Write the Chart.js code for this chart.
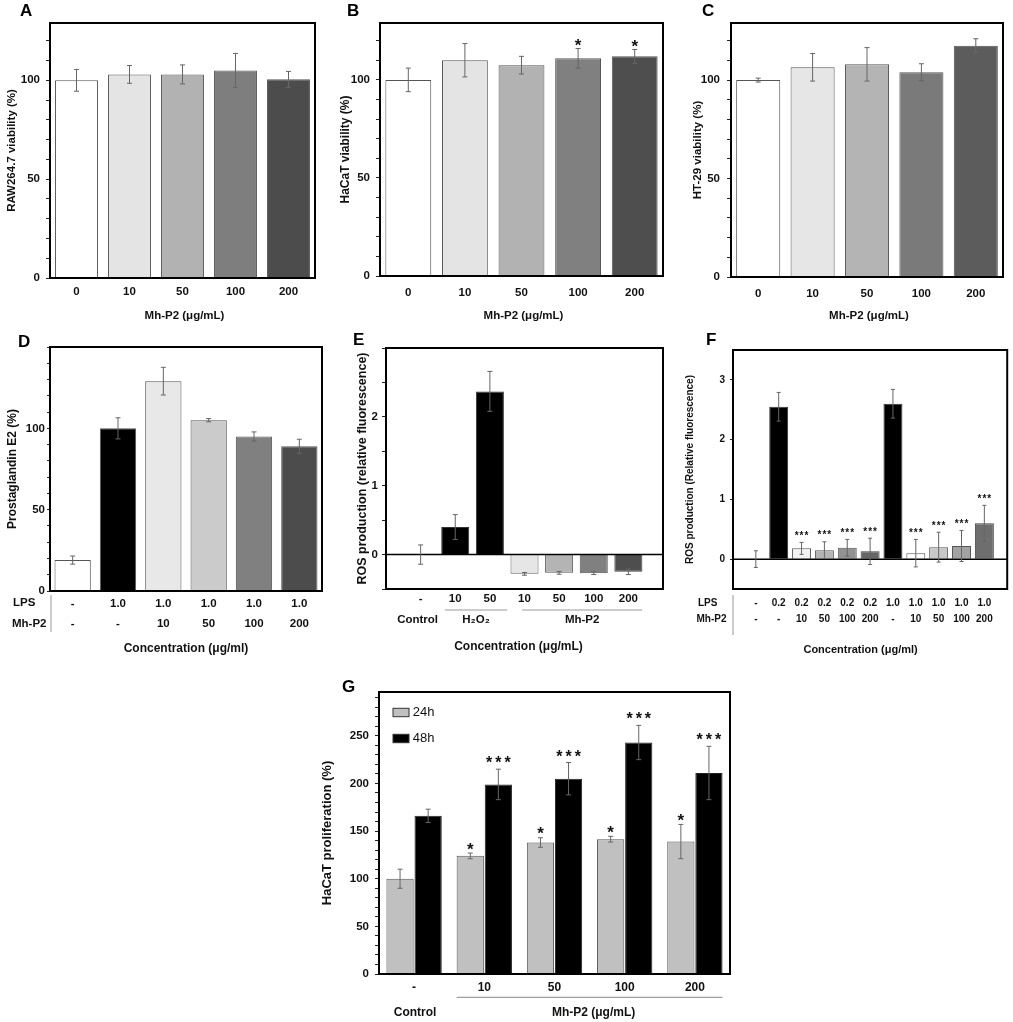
<!DOCTYPE html>
<html lang="en">
<head>
<meta charset="UTF-8" />
<title>Mh-P2 viability, PGE2, ROS and proliferation</title>
<script src="https://cdn.jsdelivr.net/npm/chart.js"></script>
<style>
  body { margin: 0; background: #fff; width: 1013px; height: 1022px; position: relative; overflow: hidden; }
  canvas { position: absolute; }
</style>
</head>
<body>
<script>
// ---- A, B, C: cell viability
const doseLabels = ['0', '10', '50', '100', '200'];
const rawViability = [100, 103, 103, 105, 100.5];
const rawViabilityErr = [5.5, 4.5, 4.8, 8.6, 4];
const hacatViability = [100, 110, 107.5, 111, 112];
const hacatViabilityErr = [6, 8.5, 4.5, 5, 3.5];
const hacatStars = ['', '', '', '*', '*'];
const ht29Viability = [100, 106.5, 108, 104, 117.5];
const ht29ViabilityErr = [1, 7, 8.5, 4.3, 3.5];

// ---- D: prostaglandin E2
const pgeLps = ['-', '1.0', '1.0', '1.0', '1.0', '1.0'];
const pgeMh = ['-', '-', '10', '50', '100', '200'];
const pgeValues = [19, 100, 129, 105, 95, 89];
const pgeErr = [2.5, 6.5, 8.5, 1, 2.8, 4.3];

// ---- E: ROS with H2O2 / Mh-P2
const rosDose = ['-', '10', '50', '10', '50', '100', '200'];
const rosValues = [0, 0.4, 2.37, -0.28, -0.265, -0.27, -0.25];
const rosErr = [0.14, 0.18, 0.29, 0.02, 0.02, 0.02, 0.04];

// ---- F: ROS with LPS + Mh-P2
const fLps = ['-', '0.2', '0.2', '0.2', '0.2', '0.2', '1.0', '1.0', '1.0', '1.0', '1.0'];
const fMh = ['-', '-', '10', '50', '100', '200', '-', '10', '50', '100', '200'];
const fValues = [0, 2.55, 0.18, 0.15, 0.19, 0.13, 2.6, 0.1, 0.2, 0.22, 0.6];
const fErr = [0.14, 0.24, 0.1, 0.14, 0.14, 0.22, 0.24, 0.23, 0.25, 0.26, 0.3];
const fStars = ['', '', '***', '***', '***', '***', '', '***', '***', '***', '***'];

// ---- G: HaCaT proliferation
const gLabels = ['-', '10', '50', '100', '200'];
const prolif24 = [100, 124, 138, 141.5, 139];
const prolif24Err = [10, 3, 5, 3, 18];
const prolif24Stars = ['', '*', '*', '*', '*'];
const prolif48 = [166, 199, 205, 243, 211];
const prolif48Err = [7, 16, 17, 18, 28];
const prolif48Stars = ['', '***', '***', '***', '***'];

const FONT = '"Liberation Sans", Arial, sans-serif';
Chart.defaults.font.family = FONT;
Chart.defaults.font.weight = 'bold';
Chart.defaults.color = '#111';

const NONE = 'rgba(0,0,0,0)';

function txt(ctx, s, x, y, size, align, weight) {
  ctx.font = (weight || 'bold') + ' ' + size + 'px ' + FONT;
  ctx.textAlign = align || 'center';
  ctx.textBaseline = 'middle';
  ctx.fillStyle = '#111';
  ctx.fillText(s, x, y);
}

function hline(ctx, x1, x2, y, color) {
  ctx.strokeStyle = color; ctx.lineWidth = 1;
  ctx.beginPath(); ctx.moveTo(x1, y); ctx.lineTo(x2, y); ctx.stroke();
}

// error bars, stars, zero line, frame, panel letter
function extrasPlugin(p) {
  return {
    id: 'extras',
    afterDatasetsDraw(chart) {
      const { ctx, chartArea: a } = chart;
      const y = chart.scales.y;
      ctx.save();
      if (p.zero) {
        const y0 = y.getPixelForValue(0);
        ctx.strokeStyle = '#000'; ctx.lineWidth = 1.5;
        ctx.beginPath(); ctx.moveTo(a.left, y0); ctx.lineTo(a.right, y0); ctx.stroke();
      }
      chart.data.datasets.forEach((ds, di) => {
        chart.getDatasetMeta(di).data.forEach((bar, i) => {
          const raw = ds.data[i];
          const v = typeof raw === 'object' ? raw.y : raw;
          const top = y.getPixelForValue(v + ds.err[i]);
          const bot = y.getPixelForValue(v - ds.err[i]);
          const cap = p.cap || 2.5;
          ctx.strokeStyle = '#666'; ctx.lineWidth = 1;
          ctx.beginPath();
          ctx.moveTo(bar.x, top); ctx.lineTo(bar.x, bot);
          ctx.moveTo(bar.x - cap, top); ctx.lineTo(bar.x + cap, top);
          ctx.moveTo(bar.x - cap, bot); ctx.lineTo(bar.x + cap, bot);
          ctx.stroke();
          if (ds.stars && ds.stars[i]) {
            const sz = ds.starSize, sp = ds.starSpacing || 0;
            ctx.font = 'bold ' + sz + 'px ' + FONT;
            ctx.letterSpacing = sp + 'px';
            ctx.textAlign = 'center'; ctx.textBaseline = 'alphabetic';
            ctx.fillStyle = '#111';
            ctx.fillText(ds.stars[i], bar.x + sp / 2, top - ds.starLift + 0.57 * sz);
            ctx.letterSpacing = '0px';
          }
        });
      });
      ctx.strokeStyle = '#000'; ctx.lineWidth = 2;
      ctx.strokeRect(a.left, a.top, a.width, a.height);
      ctx.font = 'bold 17px ' + FONT;
      ctx.textAlign = 'left'; ctx.textBaseline = 'alphabetic'; ctx.fillStyle = '#000';
      ctx.fillText(p.letter, p.lx - p.x, p.ly - p.y);
      ctx.restore();
    }
  };
}

function makePanel(p) {
  const cv = document.createElement('canvas');
  cv.width = p.w; cv.height = p.h;
  cv.style.left = p.x + 'px'; cv.style.top = p.y + 'px';
  document.body.appendChild(cv);
  const b = p.box;
  const every = p.yEvery;
  const labelMax = p.yLabelMax !== undefined ? p.yLabelMax : Infinity;
  const xScale = Object.assign({
    offset: true,
    grid: { display: false, drawTicks: false, offset: true },
    border: { display: false },
    afterFit: s => { s.height = p.y + p.h - b.b; }
  }, p.xScale || {});
  xScale.ticks = { autoSkip: false, maxRotation: 0, padding: p.xPad, font: { size: p.xFont, lineHeight: p.xLine || 1.2 } };
  if (p.xStep) xScale.ticks.stepSize = p.xStep;
  if (p.xTick) xScale.ticks.callback = p.xTick;
  return new Chart(cv, {
    type: 'bar',
    data: { labels: p.labels, datasets: p.datasets },
    options: {
      responsive: false,
      animation: false,
      events: [],
      layout: { padding: { left: 0, bottom: 0, top: b.t - p.y, right: p.x + p.w - b.r } },
      plugins: { legend: { display: false }, tooltip: { enabled: false } },
      scales: {
        x: xScale,
        y: {
          min: p.yMin, max: p.yMax,
          ticks: {
            stepSize: p.yStep, autoSkip: false, includeBounds: false, padding: p.yPad,
            font: { size: p.yFont },
            callback: v => {
              const q = v / every;
              return Math.abs(q - Math.round(q)) < 1e-9 && v <= labelMax ? String(v) : '';
            }
          },
          afterBuildTicks: s => { if (p.yKeep) s.ticks = s.ticks.filter(t => p.yKeep(t.value)); },
          grid: { drawOnChartArea: false, drawTicks: true, tickLength: p.tickLen, color: '#222' },
          border: { display: false },
          title: { display: true, text: p.yTitle, color: '#111', font: { size: p.yTitleFont }, padding: { top: p.yTitlePad, bottom: 0 } },
          afterFit: s => { s.width = b.l - p.x; }
        }
      }
    },
    plugins: [extrasPlugin(p), { id: 'notes', afterDraw: chart => { chart.ctx.save(); p.draw(chart, chart.ctx, chart.chartArea); chart.ctx.restore(); } }]
  });
}

function viabilityPanel(o) {
  return makePanel({
    x: o.x, y: 0, w: o.w, h: 325, box: o.box,
    labels: doseLabels,
    datasets: [{
      data: o.values, err: o.err, stars: o.stars, starSize: 17, starLift: 7,
      backgroundColor: o.colors, borderColor: '#555', borderWidth: 1,
      categoryPercentage: 0.81, barPercentage: 1
    }],
    xPad: o.xPad, xFont: 11.5,
    yMin: 0, yMax: 129, yStep: 10, yEvery: 50, yPad: o.yPad, tickLen: 4, yFont: 11.5,
    yTitle: o.title, yTitleFont: o.titleFont, yTitlePad: o.titlePad,
    letter: o.letter, lx: o.lx, ly: 16,
    draw: (chart, ctx, a) => txt(ctx, 'Mh-P2 (μg/mL)', (a.left + a.right) / 2 + 2, 316, 11.5)
  });
}

// A
viabilityPanel({ x: 0, w: 330, box: { l: 50, t: 23, r: 315, b: 278 }, values: rawViability, err: rawViabilityErr,
  colors: ['#ffffff', '#e4e4e4', '#b2b2b2', '#7e7e7e', '#4c4c4c'], xPad: 6.5, yPad: 6,
  title: 'RAW264.7 viability (%)', titleFont: 11.5, titlePad: 5, letter: 'A', lx: 20 });
// B
viabilityPanel({ x: 330, w: 335, box: { l: 380, t: 23, r: 663, b: 276 }, values: hacatViability, err: hacatViabilityErr,
  stars: hacatStars, colors: ['#ffffff', '#e4e4e4', '#b2b2b2', '#808080', '#4e4e4e'], xPad: 10, yPad: 6,
  title: 'HaCaT viability (%)', titleFont: 12, titlePad: 8, letter: 'B', lx: 347 });
// C
viabilityPanel({ x: 670, w: 343, box: { l: 731, t: 23, r: 1003, b: 277 }, values: ht29Viability, err: ht29ViabilityErr,
  colors: ['#ffffff', '#e6e6e6', '#b4b4b4', '#7a7a7a', '#5c5c5c'], xPad: 9.5, yPad: 7,
  title: 'HT-29 viability (%)', titleFont: 11.5, titlePad: 21, letter: 'C', lx: 702 });

// D
makePanel({
  x: 0, y: 325, w: 330, h: 335, box: { l: 50, t: 347, r: 322, b: 591 },
  labels: pgeMh,
  datasets: [{
    data: pgeValues, err: pgeErr,
    backgroundColor: ['#ffffff', '#000000', '#e8e8e8', '#cbcbcb', '#808080', '#4c4c4c'],
    borderColor: '#555', borderWidth: 1, categoryPercentage: 0.8, barPercentage: 1
  }],
  xPad: 2, xFont: 11.5, xLine: 1.8,
  xTick: (v, i) => [pgeLps[i], pgeMh[i]],
  yMin: 0, yMax: 150, yStep: 10, yEvery: 50, yLabelMax: 100, yPad: 2, tickLen: 3, yFont: 11.5,
  yTitle: 'Prostaglandin E2 (%)', yTitleFont: 12, yTitlePad: 5,
  letter: 'D', lx: 18, ly: 347,
  draw: (chart, ctx, a) => {
    txt(ctx, 'LPS', a.left - 37, a.bottom + 12.3, 11.5, 'left');
    txt(ctx, 'Mh-P2', a.left - 38, a.bottom + 33, 11.5, 'left');
    ctx.strokeStyle = '#999'; ctx.lineWidth = 1;
    ctx.beginPath(); ctx.moveTo(a.left + 1, a.bottom + 4); ctx.lineTo(a.left + 1, a.bottom + 41); ctx.stroke();
    txt(ctx, 'Concentration (μg/ml)', (a.left + a.right) / 2, a.bottom + 57.3, 12);
  }
});

// E
makePanel({
  x: 330, y: 325, w: 340, h: 335, box: { l: 386, t: 348, r: 663, b: 589 },
  datasets: [{
    data: rosValues.map((v, i) => ({ x: i + 1, y: v })), err: rosErr,
    backgroundColor: [NONE, '#000000', '#000000', '#e6e6e6', '#b4b4b4', '#808080', '#4e4e4e'],
    borderColor: [NONE, '#333', '#333', '#666', '#555', '#555', '#444'], borderWidth: 1,
    categoryPercentage: 1, barPercentage: 0.81
  }],
  xScale: { type: 'linear', min: 0, max: 8, offset: false, grid: { display: false, drawTicks: false, offset: false } },
  xPad: 3, xFont: 11.5, xStep: 1,
  xTick: v => rosDose[v - 1] || '',
  yMin: -0.5, yMax: 3, yStep: 0.5, yEvery: 1, yLabelMax: 2, yPad: 4, tickLen: 4, yFont: 11.5,
  yTitle: 'ROS production (relative fluorescence)', yTitleFont: 12.5, yTitlePad: 25.5,
  letter: 'E', lx: 353, ly: 345, zero: true,
  draw: (chart, ctx, a) => {
    const x = chart.scales.x;
    const s = x.getPixelForValue(1) - x.getPixelForValue(0);
    const h1 = x.getPixelForValue(2) - 0.3 * s, h2 = x.getPixelForValue(3) + 0.5 * s;
    const m1 = x.getPixelForValue(4) - 0.07 * s, m2 = x.getPixelForValue(7) + 0.4 * s;
    hline(ctx, h1, h2, a.bottom + 21, '#999');
    hline(ctx, m1, m2, a.bottom + 21, '#999');
    txt(ctx, 'Control', x.getPixelForValue(1) - 3, a.bottom + 31, 11.5);
    txt(ctx, 'H₂O₂', (h1 + h2) / 2, a.bottom + 31, 11.5);
    txt(ctx, 'Mh-P2', (m1 + m2) / 2, a.bottom + 31, 11.5);
    txt(ctx, 'Concentration (μg/mL)', (a.left + a.right) / 2 - 6, a.bottom + 57.7, 12);
  }
});

// F
makePanel({
  x: 670, y: 325, w: 343, h: 335, box: { l: 733, t: 350, r: 1010, b: 589 },
  datasets: [{
    data: fValues.map((v, i) => ({ x: i + 1, y: v })), err: fErr,
    stars: fStars, starSize: 10, starLift: 9, starSpacing: 1,
    backgroundColor: [NONE, '#000000', '#f2f2f2', '#b4b4b4', '#929292', '#666666', '#000000', '#ffffff', '#c8c8c8', '#a2a2a2', '#6e6e6e'],
    borderColor: [NONE, '#333', '#555', '#555', '#555', '#444', '#333', '#555', '#555', '#555', '#444'], borderWidth: 1,
    categoryPercentage: 1, barPercentage: 0.83
  }],
  xScale: { type: 'linear', min: 0, max: 12, offset: false, grid: { display: false, drawTicks: false, offset: false } },
  xPad: 5.8, xFont: 10, xLine: 1.63, xStep: 1,
  xTick: v => (v >= 1 && v <= 11 ? [fLps[v - 1], fMh[v - 1]] : ''),
  yMin: -0.5, yMax: 3.5, yStep: 0.5, yEvery: 1, yPad: 5, tickLen: 3, yFont: 10,
  yKeep: v => Number.isInteger(v),
  yTitle: 'ROS production (Relative fluorescence)', yTitleFont: 10, yTitlePad: 14.7,
  letter: 'F', lx: 706, ly: 345, zero: true, cap: 2,
  draw: (chart, ctx, a) => {
    txt(ctx, 'LPS', a.left - 35, a.bottom + 14, 10, 'left');
    txt(ctx, 'Mh-P2', a.left - 36.5, a.bottom + 30.3, 10, 'left');
    ctx.strokeStyle = '#999'; ctx.lineWidth = 1;
    ctx.beginPath(); ctx.moveTo(a.left, a.bottom + 6); ctx.lineTo(a.left, a.bottom + 46); ctx.stroke();
    txt(ctx, 'Concentration (μg/ml)', (a.left + a.right) / 2 - 9.5, a.bottom + 61, 11);
  }
});

// G
makePanel({
  x: 250, y: 660, w: 500, h: 362, box: { l: 379, t: 692, r: 730, b: 974 },
  labels: gLabels,
  datasets: [
    { label: '24h', data: prolif24, err: prolif24Err, stars: prolif24Stars, starSize: 17, starLift: 8,
      backgroundColor: '#c0c0c0', borderColor: '#555', borderWidth: 1, categoryPercentage: 0.8, barPercentage: 0.97 },
    { label: '48h', data: prolif48, err: prolif48Err, stars: prolif48Stars, starSize: 16, starLift: 10, starSpacing: 3,
      backgroundColor: '#000000', borderColor: '#222', borderWidth: 1, categoryPercentage: 0.8, barPercentage: 0.97 }
  ],
  xPad: 6.8, xFont: 12,
  yMin: 0, yMax: 296, yStep: 10, yEvery: 50, yPad: 6, tickLen: 4, yFont: 11.5,
  yTitle: 'HaCaT proliferation (%)', yTitleFont: 13, yTitlePad: 70,
  letter: 'G', lx: 342, ly: 692,
  draw: (chart, ctx, a) => {
    chart.data.datasets.forEach((ds, di) => {
      const by = a.top + 16.3 + di * 26;
      ctx.fillStyle = ds.backgroundColor;
      ctx.fillRect(a.left + 14, by, 16, 8.4);
      ctx.strokeStyle = '#333'; ctx.lineWidth = 1;
      ctx.strokeRect(a.left + 14, by, 16, 8.4);
      txt(ctx, ds.label, a.left + 33.7, by + 4.4, 13, 'left', 'normal');
    });
    const x = chart.scales.x;
    const b24 = chart.getDatasetMeta(0).data[1];
    const b48 = chart.getDatasetMeta(1).data[4];
    const l1 = b24.x - b24.width / 2, l2 = b48.x + b48.width / 2;
    hline(ctx, l1, l2, a.bottom + 23.3, '#888');
    txt(ctx, 'Control', x.getPixelForValue(0) + 1, a.bottom + 38.7, 12);
    txt(ctx, 'Mh-P2 (μg/mL)', (l1 + l2) / 2 + 4, a.bottom + 38.7, 12);
  }
});
</script>
</body>
</html>
